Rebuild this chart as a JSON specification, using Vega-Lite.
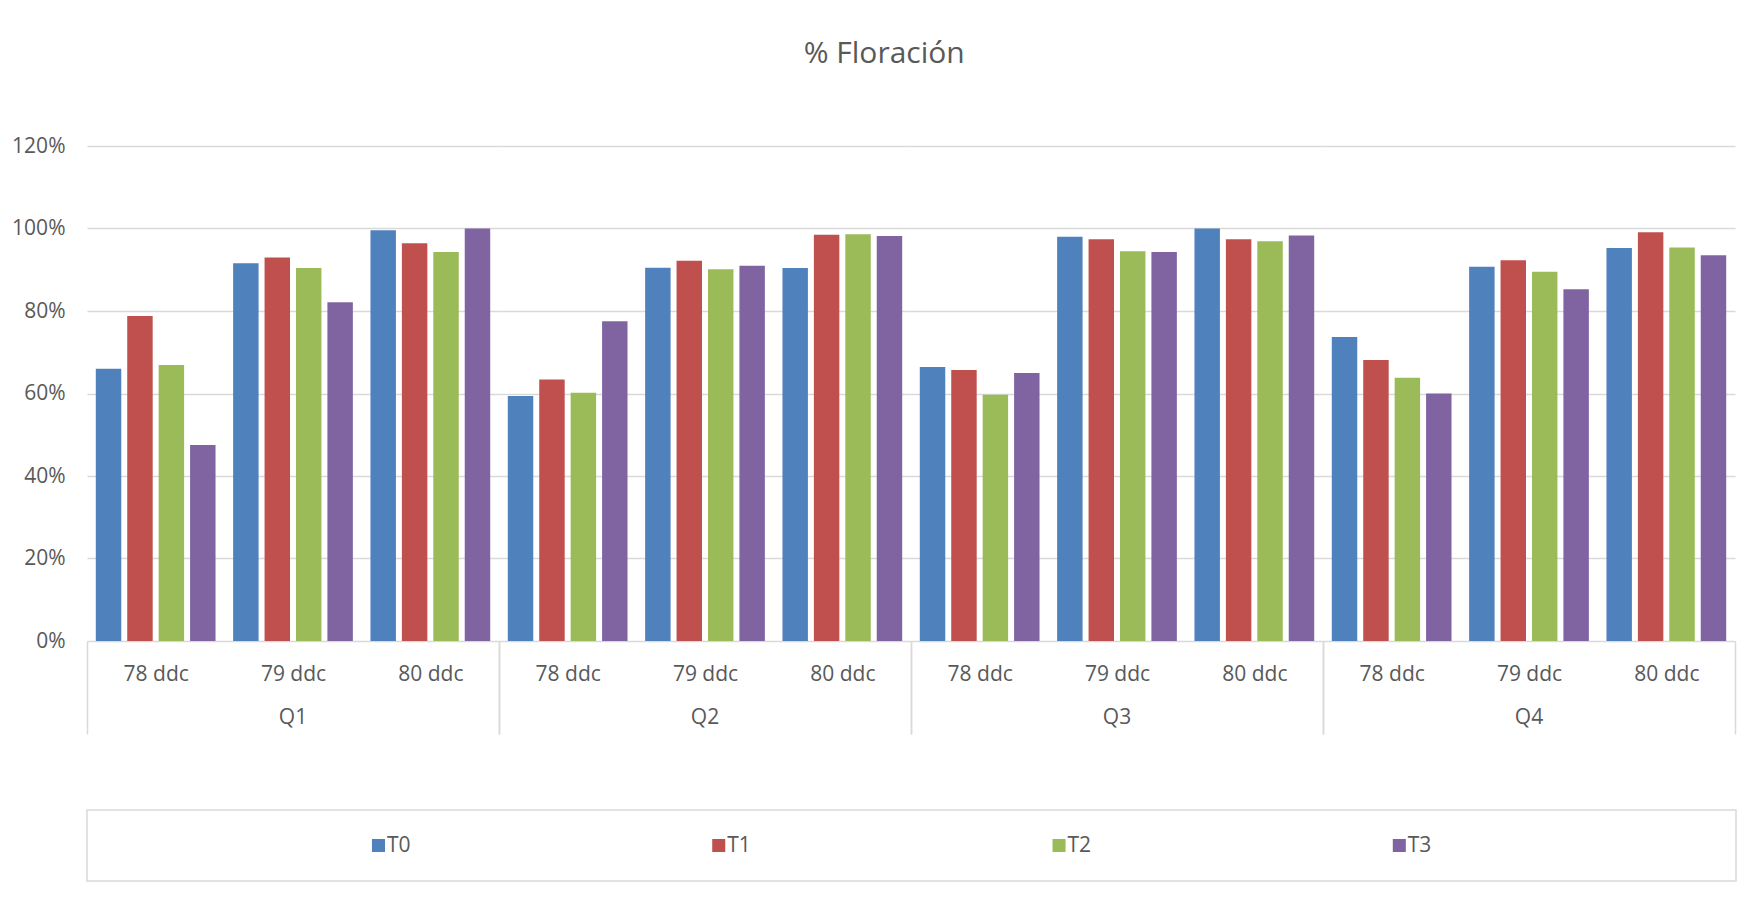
{
  "$schema": "https://vega.github.io/schema/vega-lite/v6.json",
  "background": "white",
  "padding": {"left": 11, "top": 39, "right": 0, "bottom": 0},
  "title": {
    "text": "% Floración",
    "font": "Open Sans",
    "fontSize": 30,
    "fontWeight": "normal",
    "color": "#595959",
    "anchor": "middle",
    "frame": "bounds",
    "dx": 10,
    "offset": 66
  },
  "datasets": {
    "floracion": [
      {"Q": "Q1", "ddc": "78 ddc", "T": "T0", "v": 0.660},
      {"Q": "Q1", "ddc": "78 ddc", "T": "T1", "v": 0.788},
      {"Q": "Q1", "ddc": "78 ddc", "T": "T2", "v": 0.669},
      {"Q": "Q1", "ddc": "78 ddc", "T": "T3", "v": 0.475},
      {"Q": "Q1", "ddc": "79 ddc", "T": "T0", "v": 0.916},
      {"Q": "Q1", "ddc": "79 ddc", "T": "T1", "v": 0.930},
      {"Q": "Q1", "ddc": "79 ddc", "T": "T2", "v": 0.904},
      {"Q": "Q1", "ddc": "79 ddc", "T": "T3", "v": 0.821},
      {"Q": "Q1", "ddc": "80 ddc", "T": "T0", "v": 0.996},
      {"Q": "Q1", "ddc": "80 ddc", "T": "T1", "v": 0.964},
      {"Q": "Q1", "ddc": "80 ddc", "T": "T2", "v": 0.943},
      {"Q": "Q1", "ddc": "80 ddc", "T": "T3", "v": 1.000},
      {"Q": "Q2", "ddc": "78 ddc", "T": "T0", "v": 0.594},
      {"Q": "Q2", "ddc": "78 ddc", "T": "T1", "v": 0.634},
      {"Q": "Q2", "ddc": "78 ddc", "T": "T2", "v": 0.602},
      {"Q": "Q2", "ddc": "78 ddc", "T": "T3", "v": 0.775},
      {"Q": "Q2", "ddc": "79 ddc", "T": "T0", "v": 0.905},
      {"Q": "Q2", "ddc": "79 ddc", "T": "T1", "v": 0.922},
      {"Q": "Q2", "ddc": "79 ddc", "T": "T2", "v": 0.901},
      {"Q": "Q2", "ddc": "79 ddc", "T": "T3", "v": 0.910},
      {"Q": "Q2", "ddc": "80 ddc", "T": "T0", "v": 0.904},
      {"Q": "Q2", "ddc": "80 ddc", "T": "T1", "v": 0.985},
      {"Q": "Q2", "ddc": "80 ddc", "T": "T2", "v": 0.986},
      {"Q": "Q2", "ddc": "80 ddc", "T": "T3", "v": 0.982},
      {"Q": "Q3", "ddc": "78 ddc", "T": "T0", "v": 0.664},
      {"Q": "Q3", "ddc": "78 ddc", "T": "T1", "v": 0.657},
      {"Q": "Q3", "ddc": "78 ddc", "T": "T2", "v": 0.597},
      {"Q": "Q3", "ddc": "78 ddc", "T": "T3", "v": 0.650},
      {"Q": "Q3", "ddc": "79 ddc", "T": "T0", "v": 0.980},
      {"Q": "Q3", "ddc": "79 ddc", "T": "T1", "v": 0.974},
      {"Q": "Q3", "ddc": "79 ddc", "T": "T2", "v": 0.945},
      {"Q": "Q3", "ddc": "79 ddc", "T": "T3", "v": 0.943},
      {"Q": "Q3", "ddc": "80 ddc", "T": "T0", "v": 1.000},
      {"Q": "Q3", "ddc": "80 ddc", "T": "T1", "v": 0.974},
      {"Q": "Q3", "ddc": "80 ddc", "T": "T2", "v": 0.969},
      {"Q": "Q3", "ddc": "80 ddc", "T": "T3", "v": 0.983},
      {"Q": "Q4", "ddc": "78 ddc", "T": "T0", "v": 0.737},
      {"Q": "Q4", "ddc": "78 ddc", "T": "T1", "v": 0.681},
      {"Q": "Q4", "ddc": "78 ddc", "T": "T2", "v": 0.638},
      {"Q": "Q4", "ddc": "78 ddc", "T": "T3", "v": 0.600},
      {"Q": "Q4", "ddc": "79 ddc", "T": "T0", "v": 0.907},
      {"Q": "Q4", "ddc": "79 ddc", "T": "T1", "v": 0.923},
      {"Q": "Q4", "ddc": "79 ddc", "T": "T2", "v": 0.895},
      {"Q": "Q4", "ddc": "79 ddc", "T": "T3", "v": 0.853},
      {"Q": "Q4", "ddc": "80 ddc", "T": "T0", "v": 0.953},
      {"Q": "Q4", "ddc": "80 ddc", "T": "T1", "v": 0.991},
      {"Q": "Q4", "ddc": "80 ddc", "T": "T2", "v": 0.954},
      {"Q": "Q4", "ddc": "80 ddc", "T": "T3", "v": 0.935}
    ],
    "series": [
      {"T": "T0"}, {"T": "T1"}, {"T": "T2"}, {"T": "T3"}
    ]
  },
  "bounds": "flush",
  "spacing": 664,
  "vconcat": [
    {
      "data": {"name": "floracion"},
      "bounds": "flush",
      "spacing": 0,
      "facet": {
        "column": {
          "field": "Q",
          "type": "nominal",
          "header": {
            "title": null,
            "labelOrient": "bottom",
            "labelFont": "Open Sans",
            "labelFontSize": 21,
            "labelColor": "#595959",
            "labelPadding": -28
          }
        }
      },
      "spec": {
        "width": 412,
        "height": 495,
        "mark": {"type": "bar"},
        "encoding": {
          "x": {
            "field": "ddc",
            "type": "nominal",
            "scale": {"paddingInner": 0, "paddingOuter": 0},
            "axis": {
              "title": null,
              "labelAngle": 0,
              "domain": false,
              "tickBand": "extent",
              "tickSize": 93,
              "tickColor": "#D9D9D9",
              "tickWidth": 1.5,
              "tickOpacity": {
                "condition": {"test": "datum.value === '78 ddc' || datum.value === '79 ddc'", "value": 0},
                "value": 1
              },
              "labelPadding": -71,
              "labelFont": "Open Sans",
              "labelFontSize": 21,
              "labelColor": "#595959"
            }
          },
          "xOffset": {
            "field": "T",
            "type": "nominal",
            "scale": {"paddingInner": 0.19, "paddingOuter": 0.28}
          },
          "y": {
            "field": "v",
            "type": "quantitative",
            "scale": {"domain": [0, 1.2], "nice": false},
            "axis": {
              "title": null,
              "values": [0, 0.2, 0.4, 0.6, 0.8, 1.0, 1.2],
              "format": ".0%",
              "ticks": false,
              "domain": false,
              "labelPadding": 22,
              "labelFont": "Open Sans",
              "labelFontSize": 21,
              "labelColor": "#595959",
              "gridColor": "#D9D9D9",
              "gridWidth": 1.5
            }
          },
          "color": {
            "field": "T",
            "type": "nominal",
            "scale": {
              "domain": ["T0", "T1", "T2", "T3"],
              "range": ["#4F81BD", "#C0504D", "#9BBB59", "#8064A2"]
            },
            "legend": null
          }
        }
      }
    },
    {
      "data": {"name": "series"},
      "width": 1649,
      "height": 71,
      "view": {"stroke": "#D9D9D9", "strokeWidth": 1.5},
      "encoding": {
        "x": {
          "field": "T",
          "type": "nominal",
          "scale": {"type": "point", "padding": 0.923, "align": 0.464},
          "axis": null
        }
      },
      "layer": [
        {
          "mark": {"type": "square", "size": 170, "opacity": 1},
          "encoding": {
            "color": {"field": "T", "type": "nominal", "legend": null}
          }
        },
        {
          "mark": {
            "type": "text",
            "align": "left",
            "baseline": "middle",
            "dx": 8.5,
            "font": "Open Sans",
            "fontSize": 21,
            "color": "#595959"
          },
          "encoding": {"text": {"field": "T", "type": "nominal"}}
        }
      ]
    }
  ],
  "config": {
    "view": {"stroke": null},
    "font": "Open Sans"
  }
}
